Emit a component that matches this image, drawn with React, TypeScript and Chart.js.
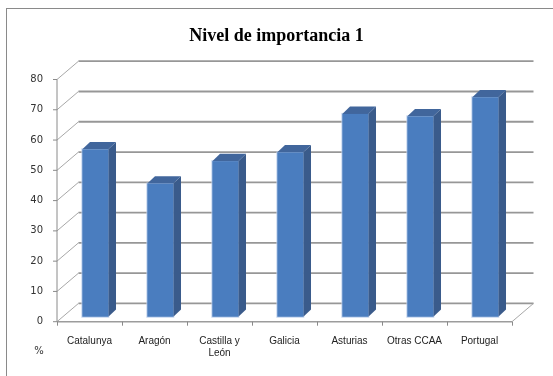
import { useEffect, useRef } from "react";
import { Chart, registerables } from "chart.js";
Chart.register(...registerables);

const categories: (string | string[])[] = ["Catalunya", "Aragón", ["Castilla y", "León"], "Galicia", "Asturias", "Otras CCAA", "Portugal"];
const values = [55.3, 44.0, 51.4, 54.3, 67.0, 66.2, 72.5];
const yMin = 0;
const yMax = 80;
const yStep = 10;
const titleText = "Nivel de importancia 1";
const unitLabel = "%";

const WALL_DX = 21.5;
const WALL_DY = -18.3;
const BAR_SHIFT = 0.27;
const BAR_DX = 7.7;
const BAR_DY = -7.3;

const threeD = {
  id: "threeD",
  beforeDraw(chart: any) {
    const { ctx, width, height } = chart;
    ctx.save();
    ctx.fillStyle = "#ffffff";
    ctx.fillRect(0, 0, width, height);
    ctx.strokeStyle = "#8a8a8a";
    ctx.lineWidth = 1;
    ctx.strokeRect(6.5, 8.5, width + 20, height + 20);
    ctx.restore();
  },
  beforeDatasetsDraw(chart: any) {
    const { ctx, chartArea, scales } = chart;
    const { left, right, top } = chartArea;
    const x = scales.x;
    const y = scales.y;
    const y0 = y.getPixelForValue(yMin);
    ctx.save();
    y.ticks.forEach((t: any) => {
      const py = y.getPixelForValue(t.value);
      ctx.strokeStyle = "#a8a8a8";
      ctx.lineWidth = 1;
      ctx.beginPath();
      ctx.moveTo(left, py);
      ctx.lineTo(left + WALL_DX, py + WALL_DY);
      ctx.stroke();
      ctx.strokeStyle = "#979797";
      ctx.lineWidth = 1.8;
      ctx.beginPath();
      ctx.moveTo(left + WALL_DX, py + WALL_DY);
      ctx.lineTo(right + WALL_DX, py + WALL_DY);
      ctx.stroke();
      ctx.strokeStyle = "#8a8a8a";
      ctx.lineWidth = 1;
      ctx.beginPath();
      ctx.moveTo(left - 4, py);
      ctx.lineTo(left, py);
      ctx.stroke();
    });
    ctx.strokeStyle = "#a8a8a8";
    ctx.lineWidth = 1;
    ctx.beginPath();
    ctx.moveTo(right, y0);
    ctx.lineTo(right + WALL_DX, y0 + WALL_DY);
    ctx.stroke();
    ctx.strokeStyle = "#9c9c9c";
    ctx.lineWidth = 1.5;
    ctx.beginPath();
    ctx.moveTo(left, y0);
    ctx.lineTo(right, y0);
    ctx.stroke();
    ctx.strokeStyle = "#8a8a8a";
    ctx.lineWidth = 1;
    ctx.beginPath();
    ctx.moveTo(left, top);
    ctx.lineTo(left, y0);
    ctx.stroke();
    for (let i = 0; i <= categories.length; i++) {
      const px = Math.round(x.getPixelForValue(i - 0.5)) + 0.5;
      ctx.beginPath();
      ctx.moveTo(px, y0);
      ctx.lineTo(px, y0 + 4);
      ctx.stroke();
    }
    ctx.fillStyle = "#333333";
    ctx.font = "10px 'DejaVu Sans'";
    ctx.textAlign = "center";
    ctx.textBaseline = "middle";
    ctx.fillText(unitLabel, left - 18, y0 + 30);
    ctx.restore();
  },
  afterDatasetsDraw(chart: any) {
    const { ctx } = chart;
    const meta = chart.getDatasetMeta(0);
    ctx.save();
    meta.data.forEach((bar: any) => {
      const p = bar.getProps(["x", "y", "base", "width"], true);
      const sx = BAR_SHIFT * WALL_DX;
      const sy = BAR_SHIFT * WALL_DY;
      const l = p.x - p.width / 2 + sx;
      const r = p.x + p.width / 2 + sx;
      const t = p.y + sy;
      const b = p.base + sy;
      ctx.fillStyle = "rgba(185,205,235,0.8)";
      ctx.fillRect(l - 1, t - 1, r - l + 2, b - t + 2);
      ctx.fillStyle = "#3a5b8b";
      ctx.beginPath();
      ctx.moveTo(r, t);
      ctx.lineTo(r + BAR_DX, t + BAR_DY);
      ctx.lineTo(r + BAR_DX, b + BAR_DY);
      ctx.lineTo(r, b);
      ctx.closePath();
      ctx.fill();
      ctx.fillStyle = "#41669c";
      ctx.beginPath();
      ctx.moveTo(l, t);
      ctx.lineTo(l + BAR_DX, t + BAR_DY);
      ctx.lineTo(r + BAR_DX, t + BAR_DY);
      ctx.lineTo(r, t);
      ctx.closePath();
      ctx.fill();
      ctx.fillStyle = "#4a7dbf";
      ctx.fillRect(l, t, r - l, b - t);
    });
    ctx.restore();
  },
};

export default function App() {
  const ref = useRef<HTMLCanvasElement>(null);
  useEffect(() => {
    document.body.style.margin = "0";
    const chart = new Chart(ref.current!, {
      type: "bar",
      data: {
        labels: categories as any,
        datasets: [
          {
            data: values,
            backgroundColor: "rgba(0,0,0,0)",
            borderWidth: 0,
            barPercentage: 0.4,
            categoryPercentage: 1,
          },
        ],
      },
      options: {
        animation: false,
        responsive: true,
        maintainAspectRatio: false,
        layout: { padding: 0 },
        plugins: {
          legend: { display: false },
          tooltip: { enabled: false },
          title: {
            display: true,
            text: titleText,
            color: "#000000",
            font: { family: "'Liberation Serif'", size: 18, weight: "bold" },
            padding: { top: 25.9, bottom: 32 },
          },
        },
        scales: {
          x: {
            grid: { display: false, drawTicks: false },
            border: { display: false },
            ticks: {
              color: "#222222",
              font: { family: "'Liberation Sans'", size: 10 },
              padding: 14,
              maxRotation: 0,
              autoSkip: false,
            },
            afterFit(scale: any) {
              scale.height = 54.3;
            },
          },
          y: {
            min: yMin,
            max: yMax,
            grid: { display: false, drawTicks: false },
            border: { display: false },
            ticks: {
              stepSize: yStep,
              color: "#333333",
              font: { family: "'DejaVu Sans'", size: 10 },
              padding: 14,
            },
            afterFit(scale: any) {
              scale.width = 57;
            },
          },
          yRight: {
            position: "right",
            min: yMin,
            max: yMax,
            grid: { display: false, drawTicks: false },
            border: { display: false },
            ticks: { display: false },
            afterFit(scale: any) {
              scale.width = 41;
            },
          },
        },
      },
      plugins: [threeD],
    });
    return () => chart.destroy();
  }, []);
  return (
    <div style={{ position: "absolute", left: 0, top: 0, width: 553, height: 376 }}>
      <canvas ref={ref} />
    </div>
  );
}
